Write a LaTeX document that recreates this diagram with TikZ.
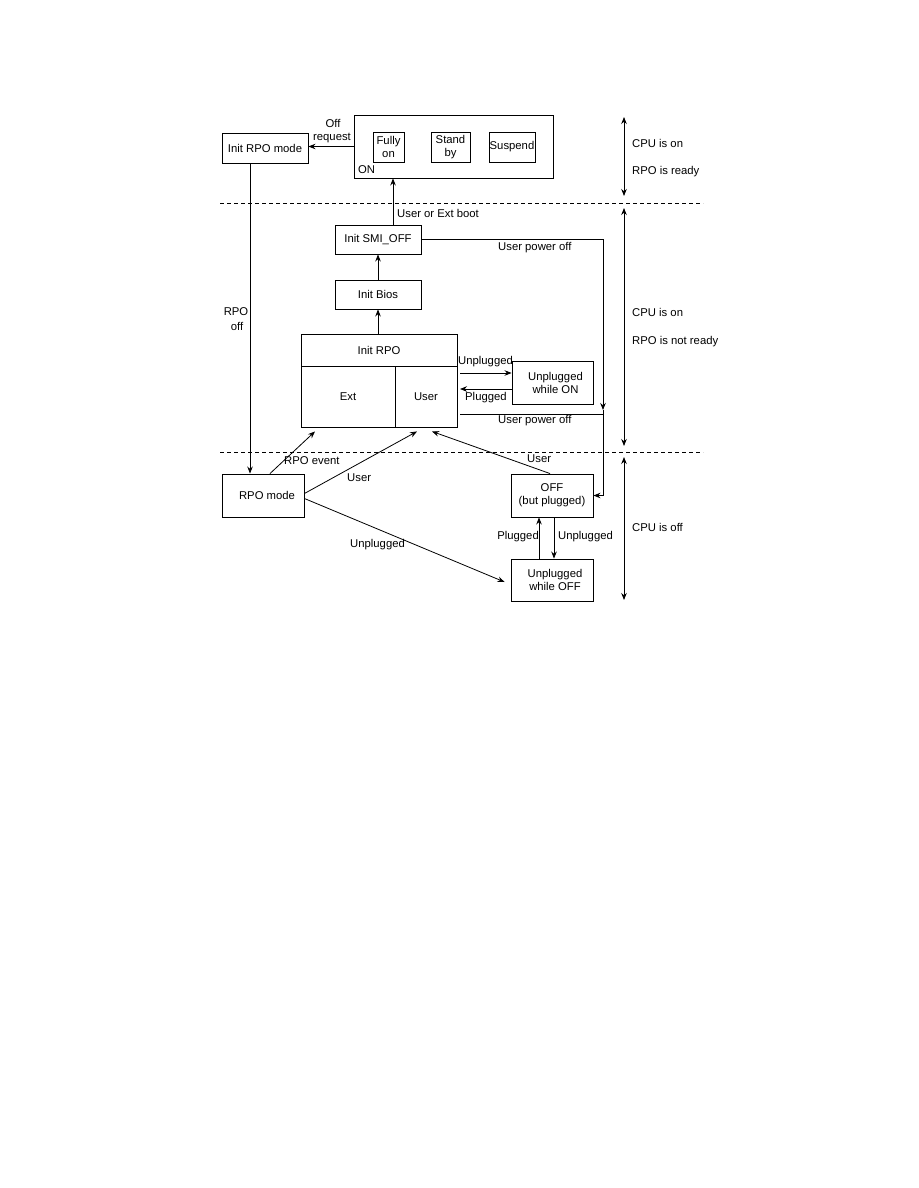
\documentclass[tikz,border=0pt]{standalone}
\usepackage{fontspec}
\setmainfont{Liberation Sans}
\usetikzlibrary{arrows.meta}
\begin{document}
\begin{tikzpicture}[x=1pt,y=-1pt,
  every node/.style={font=\fontsize{11.3}{13}\selectfont},
  box/.style={draw, line width=0.9pt, inner sep=0pt, align=center},
  lbl/.style={inner sep=0pt, align=center},
  arr/.style={line width=0.8pt, -{Stealth[length=7pt,width=5.5pt]}},
  dbl/.style={line width=0.8pt, {Stealth[length=7pt,width=5.5pt]}-{Stealth[length=7pt,width=5.5pt]}},
  ln/.style={line width=0.8pt},
  sep/.style={line width=0.8pt, dash pattern=on 4pt off 3pt}]
\useasboundingbox (0,0) rectangle (918,1188);
\fill[white] (0,0) rectangle (918,1188);

% boxes
\node[box, minimum width=86pt, minimum height=30pt] (initrpomode) at (265,148) {Init RPO mode};
\node[box, minimum width=199pt, minimum height=63pt] (on) at (453.5,146.5) {};
\node[box, minimum width=31pt, minimum height=30pt] (fully) at (388.5,147) {Fully\\on};
\node[box, minimum width=39pt, minimum height=30pt] (standby) at (450.5,147) {Stand\\by};
\node[box, minimum width=46pt, minimum height=30pt] (suspend) at (512,147) {Suspend};
\node[lbl, anchor=west] (onlbl) at (358,170) {ON};

\node[box, minimum width=86pt, minimum height=29pt] (smioff) at (378,239.5) {Init SMI\_OFF};
\node[box, minimum width=86pt, minimum height=29pt] (initbios) at (378,294.5) {Init Bios};

\node[box, minimum width=156pt, minimum height=93pt] (initrpo) at (379,380.5) {};
\node[box, minimum width=156pt, minimum height=32pt] (initrpotop) at (379,350) {Init RPO};
\node[box, minimum width=94pt, minimum height=61pt] (ext) at (348,396.5) {Ext};
\node[box, minimum width=62pt, minimum height=61pt] (user) at (426,396.5) {User};

\node[box, minimum width=81pt, minimum height=43pt] (unpon) at (552.5,382.5) {\hspace*{6pt}Unplugged\\\hspace*{6pt}while ON};
\node[box, minimum width=82pt, minimum height=43pt] (rpomode) at (263,495.5) {\hspace*{8pt}RPO mode};
\node[box, minimum width=82pt, minimum height=43pt] (off) at (552,495.5) {OFF\\(but plugged)};
\node[box, minimum width=82pt, minimum height=42pt] (unpoff) at (552,580) {\hspace*{6pt}Unplugged\\\hspace*{6pt}while OFF};

% separators
\coordinate (s1a) at (220,203); \coordinate (s1b) at (703,203);
\coordinate (s2a) at (220,452); \coordinate (s2b) at (703,452);
\draw[sep] (s1a) -- (s1b);
\draw[sep] (s2a) -- (s2b);

% right side ranges
\coordinate (r1a) at (624,117); \coordinate (r1b) at (624,196);
\coordinate (r2a) at (624,208); \coordinate (r2b) at (624,446);
\coordinate (r3a) at (624,457); \coordinate (r3b) at (624,600);
\draw[dbl] (r1a) -- (r1b);
\draw[dbl] (r2a) -- (r2b);
\draw[dbl] (r3a) -- (r3b);
\node[lbl, anchor=west] (t1) at (632,143) {CPU is on};
\node[lbl, anchor=west] (t2) at (632,172) {RPO is ready};
\node[lbl, anchor=west] (t3) at (632,312) {CPU is on};
\node[lbl, anchor=west] (t4) at (632,342) {RPO is not ready};
\node[lbl, anchor=west] (t5) at (632,527) {CPU is off};

% connectors
\draw[arr] (on.west) -- (initrpomode.east |- on.west);
\node[lbl] (offreq1) at (333,123) {Off};
\node[lbl] (offreq2) at (332,138) {request};

\draw[arr] ([xshift=-15pt]initrpomode.south) -- ([xshift=-15pt]initrpomode.south |- rpomode.north);
\node[lbl] (rpooff1) at (236,312) {RPO};
\node[lbl] (rpooff2) at (237,326) {off};

\draw[arr] ([xshift=15pt]smioff.north) -- ([xshift=15pt]smioff.north |- on.south);
\node[lbl, anchor=west] (ueb) at (397,213) {User or Ext boot};

\draw[arr] (initbios.north) -- (smioff.south);
\draw[arr] (initrpotop.north -| initbios.south) -- (initbios.south);

\coordinate (bus) at (603,410);
\draw[arr] (smioff.east) -| (bus);
\draw[arr] (bus) |- (off.east);
\node[lbl, anchor=west] (upo1) at (498,248) {User power off};
\coordinate (upoS) at (460,414);
\draw[ln] (upoS) -- (upoS -| bus);
\node[lbl, anchor=west] (upo2) at (498,421) {User power off};

\coordinate (uA) at (460,373);
\draw[arr] (uA) -- (uA -| unpon.west);
\node[lbl, anchor=west] (unpl1) at (458,362) {Unplugged};
\coordinate (pA) at (unpon.west |- 0,389);
\draw[arr] (pA) -- (460,389);
\node[lbl, anchor=west] (plg1) at (465,398) {Plugged};

\draw[arr] ([xshift=7pt]rpomode.north) -- ([xshift=-33pt,yshift=-4pt]ext.south);
\node[lbl, anchor=west] (rpoev) at (284,461) {RPO event};

\draw[arr] ([yshift=2pt]rpomode.east) -- ([xshift=-9pt,yshift=-4pt]user.south);
\node[lbl, anchor=west] (user1) at (347,478) {User};

\draw[arr] ([xshift=-2pt]off.north) -- ([xshift=6pt,yshift=-4pt]user.south);
\node[lbl, anchor=west] (user2) at (527,459) {User};

\draw[arr] ([yshift=-3pt]rpomode.east) -- ([xshift=-6pt,yshift=-2pt]unpoff.west);
\node[lbl, anchor=west] (unpl2) at (350,545) {Unplugged};

\draw[arr] ([xshift=-13pt]unpoff.north) -- ([xshift=-13pt]off.south);
\node[lbl, anchor=east] (plg2) at (539,537) {Plugged};
\draw[arr] ([xshift=2pt]off.south) -- ([xshift=2pt]unpoff.north);
\node[lbl, anchor=west] (unpl3) at (558,537) {Unplugged};
\end{tikzpicture}
\end{document}
